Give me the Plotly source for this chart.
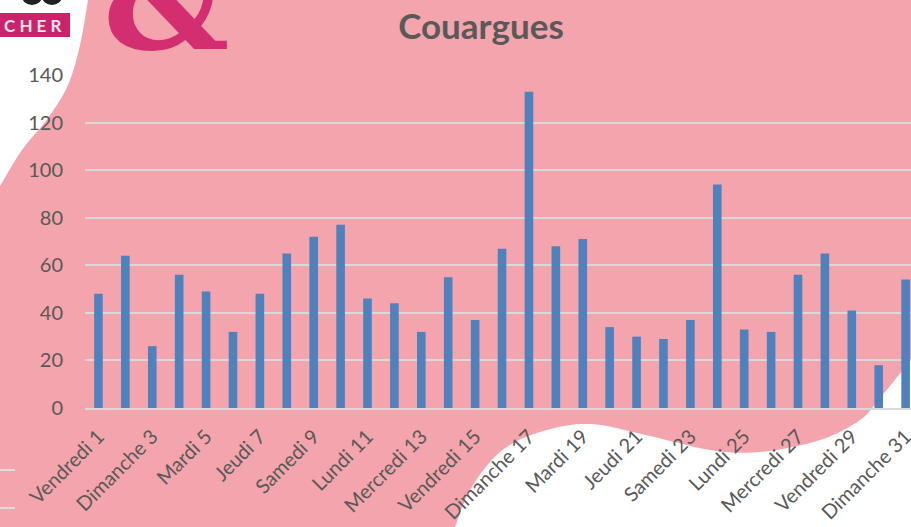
import plotly.graph_objects as go

days = ["Vendredi 1", "Samedi 2", "Dimanche 3", "Lundi 4", "Mardi 5", "Mercredi 6", "Jeudi 7",
        "Vendredi 8", "Samedi 9", "Dimanche 10", "Lundi 11", "Mardi 12", "Mercredi 13", "Jeudi 14",
        "Vendredi 15", "Samedi 16", "Dimanche 17", "Lundi 18", "Mardi 19", "Mercredi 20", "Jeudi 21",
        "Vendredi 22", "Samedi 23", "Dimanche 24", "Lundi 25", "Mardi 26", "Mercredi 27", "Jeudi 28",
        "Vendredi 29", "Samedi 30", "Dimanche 31"]
values = [48, 64, 26, 56, 49, 32, 48, 65, 72, 77, 46, 44, 32, 55, 37, 67, 133, 68, 71, 34, 30,
          29, 37, 94, 33, 32, 56, 65, 41, 18, 54]
tick_labels = days[::2]
y_ticks = [0, 20, 40, 60, 80, 100, 120, 140]

W, H = 911, 527
L, R, T, B = 85, 0, 75, 119
PW, PH = W - L - R, H - T - B


def px(x, y):
    return (x - L) / PW, (H - B - y) / PH


def path(points):
    s = ""
    for i, (x, y) in enumerate(points):
        xp, yp = px(x, y)
        s += ("M" if i == 0 else "L") + f"{xp:.5f},{yp:.5f} "
    return s + "Z"


def smooth(points, n=8):
    out = []
    pts = [points[0]] + points + [points[-1]]
    for i in range(1, len(pts) - 2):
        p0, p1, p2, p3 = pts[i - 1], pts[i], pts[i + 1], pts[i + 2]
        for k in range(n):
            t = k / n
            t2, t3 = t * t, t * t * t
            x = 0.5 * ((2 * p1[0]) + (-p0[0] + p2[0]) * t + (2 * p0[0] - 5 * p1[0] + 4 * p2[0] - p3[0]) * t2 + (-p0[0] + 3 * p1[0] - 3 * p2[0] + p3[0]) * t3)
            y = 0.5 * ((2 * p1[1]) + (-p0[1] + p2[1]) * t + (2 * p0[1] - 5 * p1[1] + 4 * p2[1] - p3[1]) * t2 + (-p0[1] + 3 * p1[1] - 3 * p2[1] + p3[1]) * t3)
            out.append((x, y))
    out.append(points[-1])
    return out


PINK = "#F4A4AC"
WHITE = "#FFFFFF"

shapes = []
tl = smooth([(88, 0), (80, 45), (68, 85), (48, 118), (22, 150), (0, 186)])
shapes.append(dict(type="path", xref="paper", yref="paper", layer="below",
                   path=path([(0, 0)] + tl), fillcolor=WHITE, line=dict(width=0)))
br = smooth([(455, 527), (470, 490), (500, 452), (540, 432), (590, 424), (650, 436),
             (710, 450), (760, 452), (820, 440), (860, 420), (880, 398), (911, 360)])
shapes.append(dict(type="path", xref="paper", yref="paper", layer="below",
                   path=path(br + [(911, 527)]), fillcolor=WHITE, line=dict(width=0)))
shapes.append(dict(type="path", xref="paper", yref="paper", layer="below",
                   path=path([(0, 13), (70, 13), (70, 37), (0, 37)]), fillcolor="#C9246B", line=dict(width=0)))
for cx in (32, 52):
    x0, y0 = px(cx - 10, -12)
    x1, y1 = px(cx + 10, 5)
    shapes.append(dict(type="circle", xref="paper", yref="paper", layer="below",
                       x0=x0, x1=x1, y0=y1, y1=y0, fillcolor="#222222", line=dict(width=0)))
for yy in (470, 508):
    shapes.append(dict(type="path", xref="paper", yref="paper", layer="below",
                       path=path([(0, yy - 1), (15, yy - 1), (15, yy + 1), (0, yy + 1)]),
                       fillcolor="#DDDDDD", line=dict(width=0)))

annotations = []
ax, ay = px(33, 25)
annotations.append(dict(x=ax, y=ay, xref="paper", yref="paper", text="<b>C H E R</b>", showarrow=False,
                        font=dict(family="Lato", size=17, color="#F8E0EA"), xanchor="center", yanchor="middle"))
ax, ay = px(166, 0)
annotations.append(dict(x=ax, y=ay, xref="paper", yref="paper", text="<b>&</b>", showarrow=False,
                        font=dict(family="DejaVu Serif", size=140, color="#D22E70"), xanchor="center", yanchor="middle"))

fig = go.Figure(go.Bar(x=days, y=values, marker=dict(color="#4F81BD", line=dict(width=0)), width=0.32))

fig.update_layout(
    width=W, height=H,
    margin=dict(l=L, r=R, t=T, b=B),
    paper_bgcolor=PINK, plot_bgcolor="rgba(0,0,0,0)",
    title=dict(text="Couargues", x=0.528, xanchor="center", y=0.95, yanchor="middle",
               font=dict(family="Lato", size=35, color="#595959", weight=700)),
    shapes=shapes, annotations=annotations,
    showlegend=False,
    xaxis=dict(type="category", range=[-0.5, 30.2], tickmode="array", tickvals=tick_labels, ticktext=tick_labels,
               tickangle=-45, tickfont=dict(family="Lato", size=20, color="#595959"),
               ticklabelstandoff=7, automargin=False,
               showgrid=False, showline=True, linecolor="#D9D9D9", linewidth=2, ticks="", fixedrange=True),
    yaxis=dict(range=[0, 140], tickvals=y_ticks, tickfont=dict(family="Lato", size=20, color="#595959"),
               showgrid=True, gridcolor="#D9D9D9", gridwidth=1.5, zeroline=False, showline=False,
               ticklabelstandoff=21, automargin=False, fixedrange=True),
)

fig.write_html("out.html", config={"displayModeBar": False},
               post_script="document.body.style.margin='0';document.body.style.overflow='hidden';")
